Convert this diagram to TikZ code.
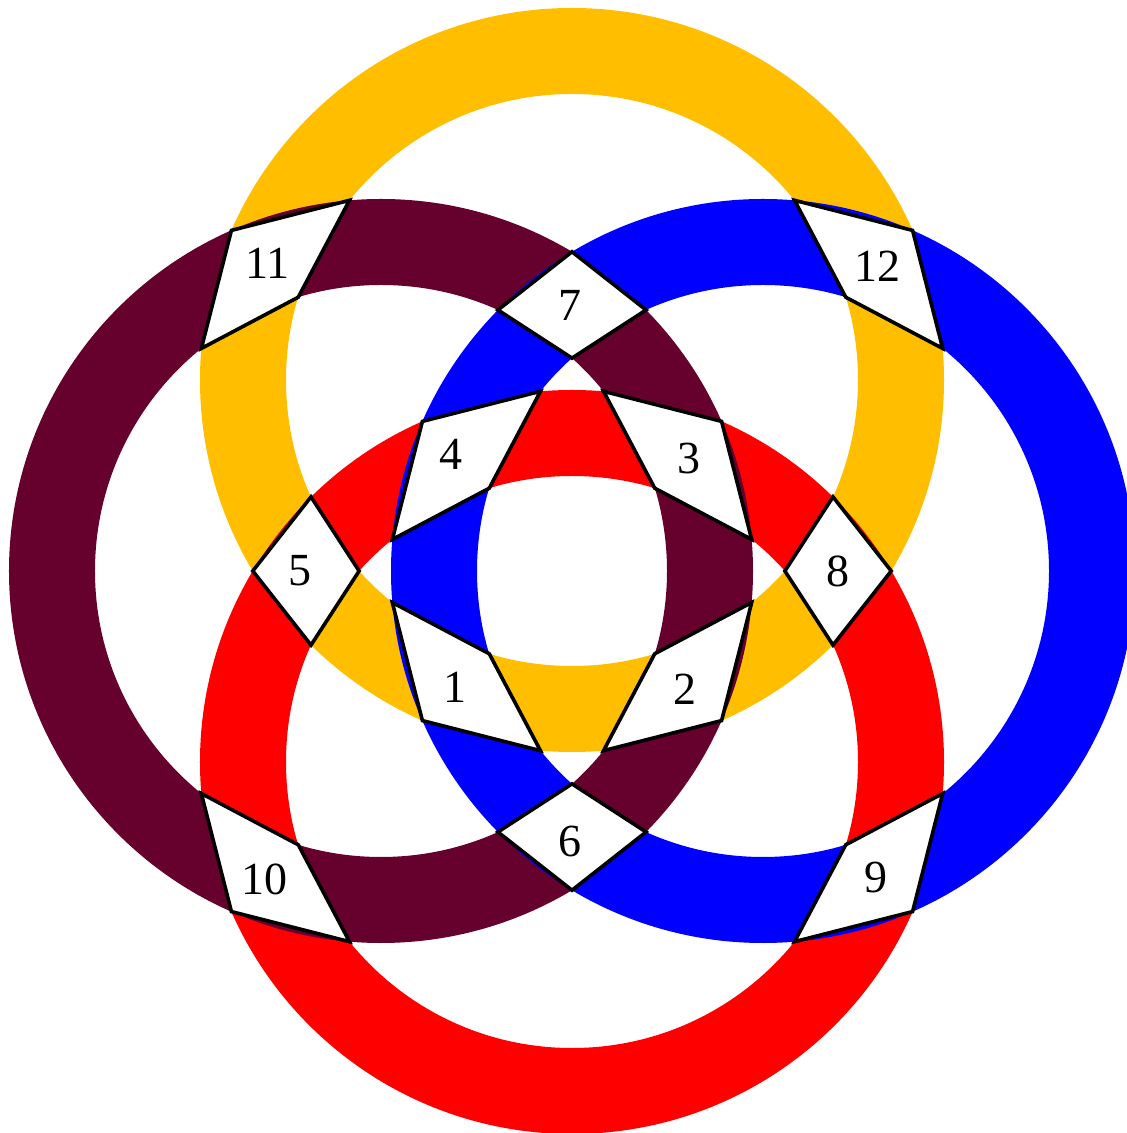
\documentclass[tikz,border=0pt]{standalone}
\usepackage{fontspec}
\setmainfont{Liberation Serif}
\definecolor{ringyellow}{RGB}{255,191,0}
\definecolor{ringmaroon}{RGB}{102,0,45}
\definecolor{ringblue}{RGB}{0,0,255}
\definecolor{ringred}{RGB}{255,0,0}
\begin{document}
\begin{tikzpicture}[x=0.5pt,y=0.5pt,
  ring/.style={line width=43pt},
  patch/.style={fill=white,draw=black,line width=1.8pt,line join=miter},
  num/.style={font=\fontsize{23}{27}\selectfont,inner sep=0pt}]
\useasboundingbox (-572,-562) rectangle (555,571);
\clip (-572,-562) rectangle (555,571);
% rings
\draw[ring,ringyellow] (0,191) circle[radius=164.5pt];
\draw[ring,ringred] (0,-191) circle[radius=164.5pt];
\draw[ring,ringmaroon] (-191,0) circle[radius=164.5pt];
\draw[ring,ringblue] (191,0) circle[radius=164.5pt];
% outer crossings
\draw[patch] (-340.59,340.59) -- (-222.53,370.66) -- (-273.76,273.76) -- (-370.66,222.53) -- cycle;
\draw[patch] (340.59,340.59) -- (222.53,370.66) -- (273.76,273.76) -- (370.66,222.53) -- cycle;
\draw[patch] (-340.59,-340.59) -- (-222.53,-370.66) -- (-273.76,-273.76) -- (-370.66,-222.53) -- cycle;
\draw[patch] (340.59,-340.59) -- (222.53,-370.66) -- (273.76,-273.76) -- (370.66,-222.53) -- cycle;
% inner crossings
\draw[patch] (149.6,149.6) -- (179.66,31.53) -- (82.76,82.76) -- (31.53,179.66) -- cycle;
\draw[patch] (-149.6,149.6) -- (-179.66,31.53) -- (-82.76,82.76) -- (-31.53,179.66) -- cycle;
\draw[patch] (-149.6,-149.6) -- (-179.66,-31.53) -- (-82.76,-82.76) -- (-31.53,-179.66) -- cycle;
\draw[patch] (149.6,-149.6) -- (179.66,-31.53) -- (82.76,-82.76) -- (31.53,-179.66) -- cycle;
% diamonds
\draw[patch] (0,319.22) -- (74.07,261.0) -- (0,212.87) -- (-74.07,261.0) -- cycle;
\draw[patch] (0,-319.22) -- (74.07,-261.0) -- (0,-212.87) -- (-74.07,-261.0) -- cycle;
\draw[patch] (-319.22,0) -- (-261.0,74.07) -- (-212.87,0) -- (-261.0,-74.07) -- cycle;
\draw[patch] (319.22,0) -- (261.0,74.07) -- (212.87,0) -- (261.0,-74.07) -- cycle;
% labels
\node[num] (n1) at (-116.63,-116.63) {1};
\node[num] (n2) at (112.63,-118.63) {2};
\node[num] (n3) at (116.63,112.63) {3};
\node[num] (n4) at (-120.63,116.63) {4};
\node[num] (n5) at (-271.88,0) {5};
\node[num] (n6) at (-2,-270.88) {6};
\node[num] (n7) at (-2,265.88) {7};
\node[num] (n8) at (265.88,0) {8};
\node[num] (n9) at (303.63,-306.63) {9};
\node[num] (n10) at (-307.63,-308.63) {10};
\node[num] (n11) at (-304.63,307.63) {11};
\node[num] (n12) at (305.63,304.63) {12};
\end{tikzpicture}
\end{document}
